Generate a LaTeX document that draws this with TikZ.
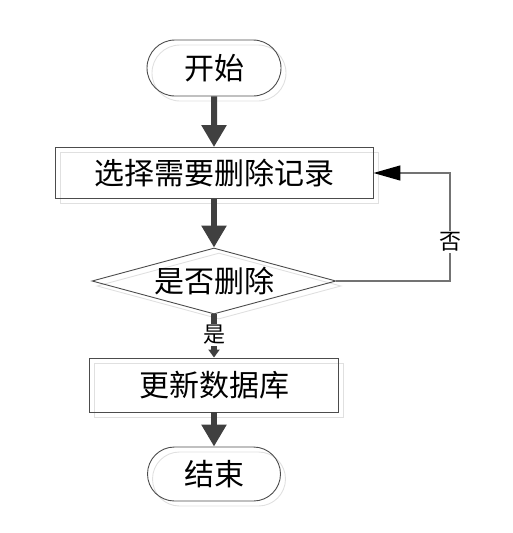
\documentclass[tikz,border=0pt]{standalone}
\usepackage{fontspec}
\newfontfamily\cjk{Noto Sans CJK SC}
\usetikzlibrary{shapes.geometric,shapes.misc,arrows.meta}
\begin{document}
\begin{tikzpicture}[x=1pt,y=-1pt,
  txt/.style={font=\cjk\fontsize{30}{32}\selectfont, inner sep=0pt},
  base/.style={txt, draw=black!70, line width=0.9pt},
  shade/.style={draw=black!12, line width=0.9pt},
  pill/.style={base, rounded rectangle},
  boxnode/.style={base, rectangle},
  dianode/.style={base, diamond, aspect=3.7},
  big/.style={draw=black!75, line width=6pt, -{Triangle[length=22pt,width=24pt]}},
  lab/.style={font=\cjk\fontsize{22}{24}\selectfont, inner sep=1.5pt, fill=white}
]
\useasboundingbox (0,0) rectangle (512,533);
% shadows (outlines only)
\begin{scope}[shift={(5,5)}]
\node[pill, shade, minimum width=134pt, minimum height=56pt] (sstart) at (214,68) {};
\node[boxnode, shade, minimum width=318pt, minimum height=51pt] (sb1) at (214,173) {};
\node[dianode, shade, minimum width=244pt, minimum height=66pt] (sdia) at (214,281) {};
\node[boxnode, shade, minimum width=249pt, minimum height=54pt] (sb2) at (214,385) {};
\node[pill, shade, minimum width=133pt, minimum height=54pt] (send) at (214,474) {};
\end{scope}
% main nodes
\node[pill, minimum width=134pt, minimum height=56pt] (start) at (214,68) {开始};
\node[boxnode, minimum width=318pt, minimum height=51pt] (b1) at (214,173) {选择需要删除记录};
\node[dianode, minimum width=244pt, minimum height=66pt] (dia) at (214,281) {是否删除};
\node[boxnode, minimum width=249pt, minimum height=54pt] (b2) at (214,385) {更新数据库};
\node[pill, minimum width=133pt, minimum height=54pt] (end) at (214,474) {结束};
% connectors
\draw[big] (start) -- (b1);
\draw[big] (b1) -- (dia);
\draw[big] (b2) -- (end);
\draw[draw=black!75, line width=6pt, -{Triangle[length=8pt,width=11pt]}] (dia.south) -- (b2.north);
\node[lab] (yes) at (214,335) {是};
\coordinate (turn) at (450,281);
\draw[draw=black!55, line width=1.4pt, -{Triangle[length=27pt,width=15pt,color=black]}] (dia.east) -- (turn) |- (b1.east);
\node[lab] (no) at (450,242) {否};
\end{tikzpicture}
\end{document}
